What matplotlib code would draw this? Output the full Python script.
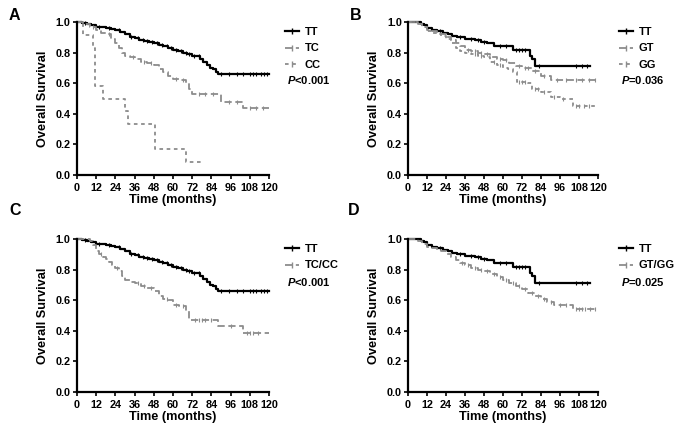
import numpy as np
import matplotlib
matplotlib.use('Agg')
import matplotlib.pyplot as plt
from matplotlib.lines import Line2D

plt.rcParams['font.family'] = ['Liberation Sans', 'DejaVu Sans']
plt.rcParams['font.weight'] = 'bold'
plt.rcParams['mathtext.fontset'] = 'custom'
plt.rcParams['mathtext.it'] = 'Liberation Sans:italic:bold'
plt.rcParams['mathtext.rm'] = 'Liberation Sans:bold'

# ---- data (KM steps: time, survival after step) ----
# Panel A / C : TT
tt_a_t = [0, 3, 6, 9, 12, 15, 18, 21, 24, 27, 30, 33, 36, 39, 42, 45, 48, 51, 54, 57,
          60, 63, 66, 69, 72, 75, 77, 79, 81, 83, 85, 87, 88, 120]
tt_a_s = [1.0, 0.995, 0.99, 0.98, 0.97, 0.965, 0.96, 0.955, 0.945, 0.935, 0.92, 0.905,
          0.895, 0.885, 0.875, 0.87, 0.86, 0.85, 0.84, 0.83, 0.82, 0.81, 0.80, 0.79,
          0.78, 0.775, 0.76, 0.74, 0.72, 0.70, 0.69, 0.67, 0.66, 0.66]
tt_a_cens = [5, 14, 20, 26, 34, 38, 41, 44, 47, 50, 53, 56, 59, 62, 65, 68, 70, 73, 76,
             90, 95, 100, 104, 108, 110, 112, 115, 117, 119]

# Panel A : TC
tc_t = [0, 4, 8, 12, 15, 18, 21, 24, 26, 28, 30, 33, 36, 40, 44, 48, 51, 54, 57, 60,
        64, 68, 70, 72, 90, 104, 120]
tc_s = [1.0, 0.99, 0.97, 0.95, 0.93, 0.92, 0.89, 0.86, 0.83, 0.80, 0.78, 0.77, 0.76,
        0.74, 0.73, 0.72, 0.69, 0.67, 0.65, 0.63, 0.62, 0.60, 0.56, 0.53, 0.48, 0.435, 0.435]
tc_cens = [10, 20, 35, 42, 46, 62, 66, 76, 80, 85, 95, 100, 108, 112, 116]

# Panel A : CC
cc_t = [0, 4, 10, 11, 16, 30, 32, 49, 68, 79]
cc_s = [1.0, 0.917, 0.833, 0.583, 0.5, 0.417, 0.333, 0.167, 0.083, 0.083]

# Panel C : TC/CC
tccc_t = [0, 8, 10, 12, 14, 16, 18, 20, 22, 24, 26, 28, 30, 33, 36, 40, 44, 48, 51, 54,
          57, 60, 64, 68, 70, 88, 104, 120]
tccc_s = [1.0, 0.99, 0.96, 0.92, 0.90, 0.88, 0.87, 0.85, 0.83, 0.81, 0.79, 0.76, 0.73,
          0.72, 0.71, 0.69, 0.68, 0.66, 0.63, 0.61, 0.60, 0.57, 0.56, 0.53, 0.47, 0.43,
          0.385, 0.385]
tccc_cens = [15, 25, 38, 42, 46, 56, 62, 66, 74, 76, 78, 80, 84, 96, 106, 108, 110, 113]

# Panel B / D : TT
tt_b_t = [0, 8, 10, 12, 15, 18, 22, 25, 28, 31, 36, 42, 46, 50, 54, 66, 77, 78, 80, 115]
tt_b_s = [1.0, 0.99, 0.98, 0.96, 0.95, 0.94, 0.93, 0.92, 0.91, 0.90, 0.89, 0.88, 0.87,
          0.86, 0.84, 0.82, 0.78, 0.76, 0.71, 0.71]
tt_b_cens = [20, 33, 40, 44, 48, 58, 62, 68, 70, 72, 74, 83, 106, 110, 113]

# Panel B : GT
gt_t = [0, 6, 9, 12, 15, 18, 21, 24, 27, 30, 33, 36, 40, 44, 48, 52, 56, 60, 64, 68,
        72, 78, 84, 90, 120]
gt_s = [1.0, 0.99, 0.97, 0.95, 0.94, 0.93, 0.92, 0.90, 0.88, 0.86, 0.84, 0.82, 0.81,
        0.80, 0.79, 0.77, 0.76, 0.75, 0.73, 0.71, 0.70, 0.68, 0.65, 0.62, 0.62]
gt_cens = [38, 42, 46, 50, 58, 62, 70, 74, 76, 80, 86, 94, 100, 106, 110, 114, 118]

# Panel B : GG
gg_t = [0, 6, 9, 12, 15, 18, 21, 24, 27, 30, 33, 36, 40, 44, 48, 52, 56, 60, 63, 66,
        69, 76, 78, 84, 90, 96, 104, 120]
gg_s = [1.0, 0.99, 0.97, 0.94, 0.93, 0.92, 0.91, 0.89, 0.86, 0.83, 0.81, 0.80, 0.79,
        0.78, 0.77, 0.74, 0.72, 0.70, 0.69, 0.67, 0.61, 0.60, 0.56, 0.54, 0.51, 0.50,
        0.45, 0.45]
gg_cens = [42, 46, 54, 58, 70, 72, 74, 80, 82, 86, 92, 98, 106, 108, 111, 114]

# Panel D : GT/GG
gtgg_t = [0, 6, 9, 12, 15, 18, 21, 24, 27, 30, 33, 36, 40, 44, 48, 52, 56, 60, 64, 68,
          72, 76, 80, 84, 88, 92, 104, 120]
gtgg_s = [1.0, 0.99, 0.97, 0.95, 0.94, 0.93, 0.92, 0.90, 0.88, 0.86, 0.84, 0.83, 0.81,
          0.80, 0.79, 0.77, 0.75, 0.73, 0.71, 0.69, 0.67, 0.65, 0.63, 0.61, 0.59, 0.57,
          0.54, 0.54]
gtgg_cens = [34, 38, 42, 46, 50, 54, 58, 62, 66, 70, 74, 78, 82, 86, 90, 96, 100, 106,
             108, 110, 112, 115, 118]

p_values = ['<0.001', '=0.036', '<0.001', '=0.025']
panel_letters = ['A', 'B', 'C', 'D']

GREY = '#8c8c8c'
styles = {
    'solid': dict(color='black', lw=1.6, ls='-'),
    'dash': dict(color=GREY, lw=1.3, ls=(0, (4, 2))),
    'dot': dict(color=GREY, lw=1.3, ls=(0, (2, 2))),
}


def step_value(t, s, x):
    """ survival at time x of a post-step curve """
    i = np.searchsorted(t, x, side='right') - 1
    return np.asarray(s)[i]


def km(ax, t, s, cens, style):
    st = styles[style]
    ax.step(t, s, where='post', clip_on=False, **st)
    if cens:
        ax.plot(cens, step_value(t, s, cens), ls='none', marker='|', ms=3,
                mew=0.8, color=st['color'], clip_on=False)
    return Line2D([], [], marker='|', ms=4, mew=1, **st)


def setup(ax):
    ax.set_xlim(0, 120)
    ax.set_ylim(0, 1.0)
    ax.set_xticks(np.arange(0, 121, 12))
    ax.set_yticks(np.arange(0, 1.01, 0.2))
    ax.set_yticklabels(['%.1f' % v for v in np.arange(0, 1.01, 0.2)])
    for sp in ['top', 'right']:
        ax.spines[sp].set_visible(False)
    for sp in ['left', 'bottom']:
        ax.spines[sp].set_linewidth(1.6)
    ax.tick_params(direction='out', length=3, width=1.2, labelsize=7.8, pad=1.5)
    ax.tick_params(axis='x', pad=2.5)
    ax.set_xlabel('Time (months)', fontsize=9.2, fontweight='bold', labelpad=1)
    ax.set_ylabel('Overall Survival', fontsize=9.2, fontweight='bold', labelpad=5)


fig = plt.figure(figsize=(6.83, 4.34), dpi=100)
W, H = 683.0, 434.0
boxes = [(77, 22, 269, 175), (408, 22, 598, 175),
         (77, 239, 269, 392), (408, 239, 598, 392)]
axes = [fig.add_axes([x0 / W, 1 - y1 / H, (x1 - x0) / W, (y1 - y0) / H])
        for (x0, y0, x1, y1) in boxes]

curves = [
    [(tt_a_t, tt_a_s, tt_a_cens, 'solid', 'TT'), (tc_t, tc_s, tc_cens, 'dash', 'TC'),
     (cc_t, cc_s, [], 'dot', 'CC')],
    [(tt_b_t, tt_b_s, tt_b_cens, 'solid', 'TT'), (gt_t, gt_s, gt_cens, 'dash', 'GT'),
     (gg_t, gg_s, gg_cens, 'dot', 'GG')],
    [(tt_a_t, tt_a_s, tt_a_cens, 'solid', 'TT'), (tccc_t, tccc_s, tccc_cens, 'dash', 'TC/CC')],
    [(tt_b_t, tt_b_s, tt_b_cens, 'solid', 'TT'), (gtgg_t, gtgg_s, gtgg_cens, 'dash', 'GT/GG')],
]
leg_x = [1.083, 1.11, 1.083, 1.11]
letter_pos = [(14, 15), (356, 15), (15, 211), (354, 211)]

for k, ax in enumerate(axes):
    setup(ax)
    handles, labels = [], []
    for (t, s, cens, style, name) in curves[k]:
        handles.append(km(ax, t, s, cens, style))
        labels.append(name)
    ax.legend(handles, labels, loc='upper left', bbox_to_anchor=(leg_x[k], 0.965),
              frameon=False, borderpad=0, borderaxespad=0, handlelength=1.3,
              handletextpad=0.5, labelspacing=0.55, numpoints=1,
              prop=dict(size=8, weight='bold'))
    py = 1 - (15.0 * len(labels) + 13) / 153.0
    ax.text(leg_x[k] + 0.01, py, r'$\mathit{P}$' + p_values[k], transform=ax.transAxes,
            fontsize=8, fontweight='bold', va='center', ha='left')
    lx, ly = letter_pos[k]
    fig.text(lx / W, 1 - ly / H, panel_letters[k], fontsize=11.5, fontweight='bold',
             ha='center', va='center')

plt.savefig('out.png', dpi=100)
